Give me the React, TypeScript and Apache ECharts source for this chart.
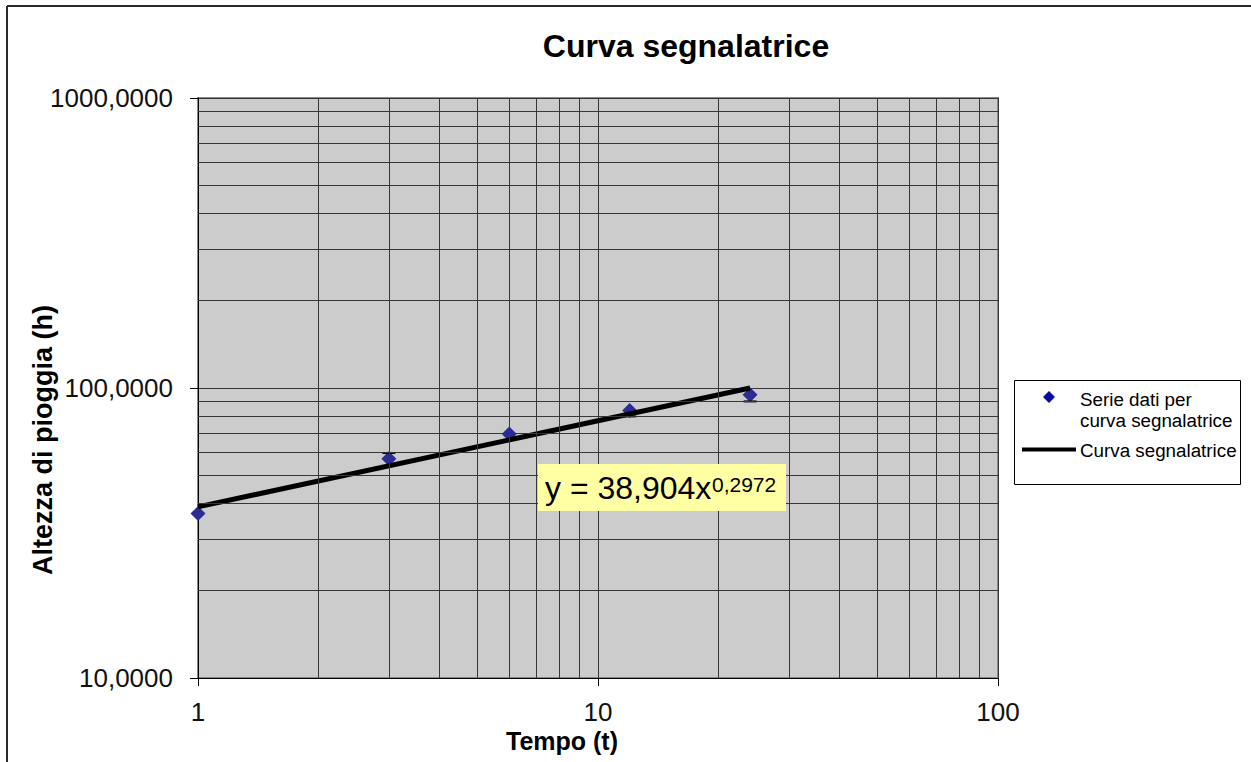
import React, { useEffect, useRef } from "react";
import * as echarts from "echarts";

const TEMPO = [1, 3, 6, 12, 24];
const ALTEZZA = [36.9, 57.0, 69.4, 83.7, 94.8];
const TREND_T = [1, 24];
const TREND_H = [38.9, 100.0];
const DASH_T = [3, 12, 24];
const DASH_H = [59.7, 79.8, 89.9];
const MINOR_X = [2, 3, 4, 5, 6, 7, 8, 9, 20, 30, 40, 50, 60, 70, 80, 90];
const MINOR_Y = [20, 30, 40, 50, 60, 70, 80, 90, 200, 300, 400, 500, 600, 700, 800, 900];

const TITLE = "Curva segnalatrice";
const X_NAME = "Tempo (t)";
const Y_NAME = "Altezza di pioggia (h)";
const SERIES_POINTS = "Serie dati per curva segnalatrice";
const SERIES_TREND = "Curva segnalatrice";
const EQUATION = "y = 38,904x";
const EXPONENT = "0,2972";

const FONT = "'Liberation Sans', Arial, sans-serif";

export default function App() {
  const ref = useRef<HTMLDivElement>(null);
  useEffect(() => {
    if (!ref.current) return;
    const chart = echarts.init(ref.current, undefined, { renderer: "svg" });
    const gridColor = "#363636";
    const option: any = {
      animation: false,
      backgroundColor: "#ffffff",
      textStyle: { fontFamily: FONT },
      grid: {
        left: 198,
        right: 253,
        top: 98,
        bottom: 84,
        show: true,
        backgroundColor: "#CCCCCC",
        borderColor: "#8a8a8a",
        borderWidth: 2,
      },
      xAxis: {
        type: "log",
        logBase: 10,
        min: 1,
        max: 100,
        axisLine: { show: true, onZero: false, lineStyle: { color: "#000", width: 1 } },
        axisTick: { show: true, length: 8, lineStyle: { color: "#000", width: 1 } },
        axisLabel: { fontSize: 26, color: "#111", fontFamily: FONT, margin: 21 },
        splitLine: { show: true, lineStyle: { color: gridColor, width: 1 } },
      },
      yAxis: {
        type: "log",
        logBase: 10,
        min: 10,
        max: 1000,
        axisLine: { show: true, onZero: false, lineStyle: { color: "#000", width: 1 } },
        axisTick: { show: true, length: 8, lineStyle: { color: "#000", width: 1 } },
        axisLabel: {
          fontSize: 26,
          color: "#111",
          fontFamily: FONT,
          margin: 25,
          formatter: (v: number) => v.toFixed(4).replace(".", ","),
        },
        splitLine: { show: true, lineStyle: { color: gridColor, width: 1 } },
      },
      series: [
        {
          type: "line",
          data: [],
          z: 1,
          silent: true,
          markLine: {
            silent: true,
            symbol: ["none", "none"],
            label: { show: false },
            emphasis: { disabled: true },
            lineStyle: { color: gridColor, type: "solid", width: 1 },
            data: [
              ...MINOR_X.map((v) => ({ xAxis: v })),
              ...MINOR_Y.map((v) => ({ yAxis: v })),
            ],
          },
        },
        {
          name: SERIES_POINTS,
          type: "scatter",
          symbol: "diamond",
          symbolSize: 15,
          z: 3,
          itemStyle: { color: "#2b2d94", opacity: 1 },
          data: TEMPO.map((t, i) => [t, ALTEZZA[i]]),
        },
        {
          type: "scatter",
          symbol: "rect",
          symbolSize: [13, 2],
          z: 3,
          itemStyle: { color: "#000", opacity: 1 },
          data: DASH_T.map((t, i) => [t, DASH_H[i]]),
        },
        {
          name: SERIES_TREND,
          type: "line",
          symbol: "none",
          z: 4,
          lineStyle: { color: "#000", width: 5 },
          data: TREND_T.map((t, i) => [t, TREND_H[i]]),
        },
      ],
      graphic: [
        { type: "line", shape: { x1: 7, y1: 6, x2: 1251, y2: 6 }, style: { stroke: "#2a2a2a", lineWidth: 2 } },
        { type: "line", shape: { x1: 7, y1: 6, x2: 7, y2: 762 }, style: { stroke: "#2a2a2a", lineWidth: 2 } },
        {
          type: "text",
          x: 686,
          y: 46,
          style: {
            text: TITLE,
            font: `bold 32px ${FONT}`,
            fill: "#000",
            align: "center",
            verticalAlign: "middle",
          },
        },
        {
          type: "text",
          x: 562,
          y: 741,
          style: {
            text: X_NAME,
            font: `bold 25px ${FONT}`,
            fill: "#000",
            align: "center",
            verticalAlign: "middle",
          },
        },
        {
          type: "text",
          x: 43,
          y: 440,
          rotation: Math.PI / 2,
          style: {
            text: Y_NAME,
            font: `bold 27px ${FONT}`,
            fill: "#000",
            align: "center",
            verticalAlign: "middle",
          },
        },
        {
          type: "rect",
          shape: { x: 538, y: 464, width: 248, height: 47 },
          style: { fill: "#FFFFA3", stroke: "none" },
          z: 10,
        },
        {
          type: "text",
          x: 545,
          y: 488,
          z: 11,
          style: {
            text: EQUATION,
            font: `32px ${FONT}`,
            fill: "#000",
            align: "left",
            verticalAlign: "middle",
          },
        },
        {
          type: "text",
          x: 712,
          y: 484,
          z: 11,
          style: {
            text: EXPONENT,
            font: `21px ${FONT}`,
            fill: "#000",
            align: "left",
            verticalAlign: "middle",
          },
        },
        {
          type: "rect",
          shape: { x: 1014.5, y: 380.5, width: 226, height: 104 },
          style: { fill: "#fff", stroke: "#000", lineWidth: 1 },
        },
        {
          type: "polygon",
          shape: {
            points: [
              [1049, 391],
              [1055, 397],
              [1049, 403],
              [1043, 397],
            ],
          },
          style: { fill: "#0a0aa6" },
        },
        {
          type: "text",
          x: 1080,
          y: 399,
          style: { text: "Serie dati per", font: `18.8px ${FONT}`, fill: "#000", align: "left", verticalAlign: "middle" },
        },
        {
          type: "text",
          x: 1080,
          y: 420,
          style: { text: "curva segnalatrice", font: `18.8px ${FONT}`, fill: "#000", align: "left", verticalAlign: "middle" },
        },
        {
          type: "line",
          shape: { x1: 1022, y1: 449.5, x2: 1076, y2: 449.5 },
          style: { stroke: "#000", lineWidth: 4 },
        },
        {
          type: "text",
          x: 1080,
          y: 450,
          style: { text: SERIES_TREND, font: `18.8px ${FONT}`, fill: "#000", align: "left", verticalAlign: "middle" },
        },
      ],
    };
    chart.setOption(option);
    return () => chart.dispose();
  }, []);
  return (
    <div
      ref={ref}
      style={{ position: "fixed", left: 0, top: 0, width: 1251, height: 762, background: "#fff" }}
    />
  );
}
